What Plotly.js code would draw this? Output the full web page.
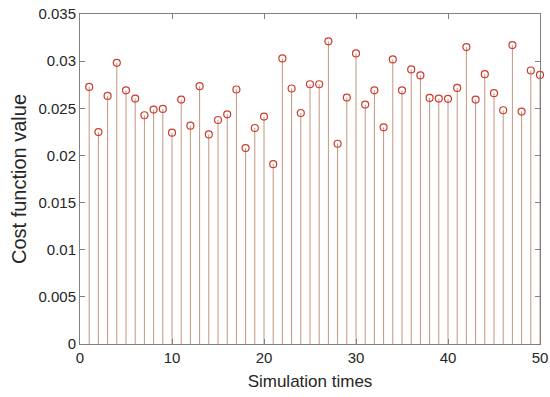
<!DOCTYPE html>
<html>
<head>
<meta charset="utf-8">
<script src="https://cdn.plot.ly/plotly-3.0.1.min.js"></script>
<style>html,body{margin:0;padding:0;background:#fff;}#chart{width:550px;height:397px;}</style>
</head>
<body>
<div id="chart"></div>
<script>
const simulationTimes = [1,2,3,4,5,6,7,8,9,10,11,12,13,14,15,16,17,18,19,20,21,22,23,24,25,26,27,28,29,30,31,32,33,34,35,36,37,38,39,40,41,42,43,44,45,46,47,48,49,50];
const costValues = [0.02727,0.02248,0.02631,0.02982,0.02691,0.02603,0.02426,0.02486,0.02493,0.02241,
  0.02592,0.02316,0.02734,0.02223,0.02376,0.02436,0.02699,0.02078,0.02291,0.02412,
  0.01907,0.03029,0.02710,0.02450,0.02755,0.02755,0.03210,0.02124,0.02614,0.03082,
  0.02539,0.02691,0.02298,0.03018,0.02691,0.02912,0.02848,0.02610,0.02603,0.02600,
  0.02716,0.03149,0.02592,0.02862,0.02660,0.02479,0.03170,0.02465,0.02901,0.02854];
const xTicks = [0,10,20,30,40,50];
const yTicks = [0,0.005,0.01,0.015,0.02,0.025,0.03,0.035];
const yTickText = ['0','0.005','0.01','0.015','0.02','0.025','0.03','0.035'];

const stemX = [], stemY = [];
simulationTimes.forEach((t, i) => { stemX.push(t, t, null); stemY.push(0, costValues[i], null); });

const font = {family: 'Liberation Sans, Arial, sans-serif', color: '#262626'};
const axisCommon = {
  showline: true, mirror: 'ticks', linecolor: '#808080', linewidth: 1,
  ticks: 'inside', ticklen: 5, tickcolor: '#808080', tickwidth: 1,
  showgrid: false, zeroline: false, tickfont: {size: 15, family: font.family, color: '#262626'}
};

const data = [
  {x: stemX, y: stemY, mode: 'lines', type: 'scatter', line: {color: 'rgb(196,150,125)', width: 1}, hoverinfo: 'skip', showlegend: false},
  {x: simulationTimes, y: costValues, mode: 'markers', type: 'scatter', showlegend: false, cliponaxis: false,
   marker: {symbol: 'circle-open', size: 7, color: 'rgb(205,60,45)', line: {width: 1.2, color: 'rgb(205,60,45)'}}}
];

const layout = {
  width: 550, height: 397,
  margin: {l: 80, r: 10, t: 14, b: 53},
  paper_bgcolor: '#fff', plot_bgcolor: '#fff',
  font: font,
  xaxis: Object.assign({}, axisCommon, {range: [0, 50], tickvals: xTicks,
    title: {text: 'Simulation times', font: {size: 17, family: font.family, color: '#262626'}, standoff: 10}}),
  yaxis: Object.assign({}, axisCommon, {range: [0, 0.035], tickvals: yTicks, ticktext: yTickText,
    title: {text: 'Cost function value', font: {size: 20, family: font.family, color: '#262626'}, standoff: 6}})
};

Plotly.newPlot('chart', data, layout, {displayModeBar: false, staticPlot: true});
</script>
</body>
</html>
